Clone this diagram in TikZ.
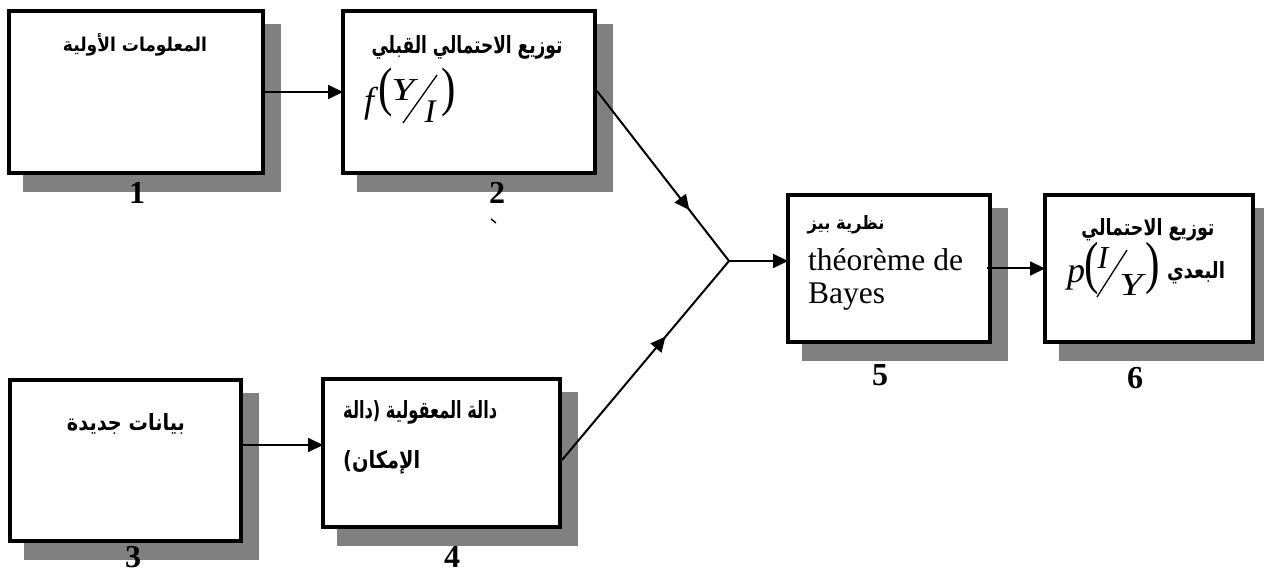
\documentclass[tikz,border=0pt]{standalone}
\usepackage{fontspec}
\usepackage{graphicx}
\setmainfont{Liberation Serif}
\newfontfamily\arabicfont[Script=Arabic]{DejaVu Sans}
\TeXXeTstate=1
\usetikzlibrary{arrows.meta,decorations.markings,backgrounds}
\newcommand{\arw}[3]{\resizebox{#1pt}{#2pt}{\arabicfont\bfseries #3}}
\tikzset{
  box/.style={draw=black, line width=4pt, fill=white, inner sep=0pt, outer sep=0pt},
  shadowfill/.style={fill=gray},
  conn/.style={line width=2pt, -{Triangle[length=15pt,width=14pt]}},
  midarrow/.style={line width=2pt, postaction={decorate},
    decoration={markings, mark=at position #1 with {\arrow{Triangle[length=15pt,width=14pt]}}}},
  artext/.style={inner sep=0pt},
  num/.style={inner sep=0pt, font=\bfseries\fontsize{32}{32}\selectfont},
  lat/.style={inner sep=0pt, anchor=base west, font=\fontsize{31.5}{31.5}\selectfont},
  itl/.style={inner sep=0pt, font=\itshape\fontsize{#1}{#1}\selectfont},
  paren/.style={inner sep=0pt, font=\fontsize{#1}{#1}\selectfont},
  slash/.style={line width=1.3pt},
}
\begin{document}
\begin{tikzpicture}[x=1pt,y=-1pt]
\useasboundingbox (0,0) rectangle (1264,572);
% boxes
\node[box, minimum width=254pt, minimum height=162pt] (b1) at (136,92) {};
\node[box, minimum width=252pt, minimum height=162pt] (b2) at (469,92) {};
\node[box, minimum width=231pt, minimum height=161pt] (b3) at (125.5,460.5) {};
\node[box, minimum width=237pt, minimum height=148pt] (b4) at (441.5,453) {};
\node[box, minimum width=202pt, minimum height=147pt] (b5) at (889,268.5) {};
\node[box, minimum width=208pt, minimum height=147pt] (b6) at (1149,268.5) {};
% shadows
\begin{scope}[on background layer]
  \foreach \b in {b1,b2,b3,b4,b5,b6}{
    \fill[shadowfill] ([shift={(14pt,-13pt)}]\b.north west) rectangle ([shift={(18pt,-19pt)}]\b.south east);
  }
\end{scope}
% box 1
\node[artext] (t1) at (135,45) {\arw{144}{18}{\beginR المعلومات الأولية\endR}};
% box 2
\node[artext] (t2) at (467,47) {\arw{191}{18}{\beginR توزيع الاحتمالي القبلي\endR}};
\node[itl=36, anchor=base west] (f2) at (364,113) {f};
\node[paren=54] (lp2) at (386,93) {\scalebox{0.8}[1]{(}};
\node[itl=32] (y2) at (403,90) {\scalebox{1.3}[1]{Y}};
\node[itl=33] (i2) at (430,112) {I};
\node[paren=54] (rp2) at (449,93) {\scalebox{0.8}[1]{)}};
\draw[slash] (403,123) -- (437,75);
% box 3
\node[artext] (t3) at (126,424) {\arw{118}{17}{\beginR بيانات جديدة\endR}};
% box 4
\node[artext, anchor=west] (t4a) at (343,412) {\arw{154}{18}{\beginR دالة المعقولية (دالة\endR}};
\node[artext, anchor=west] (t4b) at (343,462) {\arw{77}{18}{\beginR الإمكان)\endR}};
% box 5
\node[artext] (t5) at (846,225) {\arw{77}{14}{\beginR نظرية بيز\endR}};
\node[lat] (t5b) at (808,271) {théorème de};
\node[lat] (t5c) at (808,303) {Bayes};
% box 6
\node[artext] (t6) at (1148,230) {\arw{133}{17}{\beginR توزيع الاحتمالي\endR}};
\node[artext] (t6b) at (1196,273) {\arw{58}{17}{\beginR البعدي\endR}};
\node[itl=36, anchor=base west] (p6) at (1067,282) {p};
\node[paren=58] (lp6) at (1092,269) {\scalebox{0.75}[1]{(}};
\node[itl=32] (i6) at (1103,258) {I};
\node[itl=32] (y6) at (1131,285) {\scalebox{1.3}[1]{Y}};
\node[paren=58] (rp6) at (1153,269) {\scalebox{0.75}[1]{)}};
\draw[slash] (1097,297) -- (1127,250);
% numbers
\node[num] (n1) at (137,193) {1};
\node[num] (n2) at (497,193) {2};
\draw[line width=1.4pt] (491,219) -- (496,223);
\node[num] (n3) at (133,557) {3};
\node[num] (n4) at (452,557) {4};
\node[num] (n5) at (880,375) {5};
\node[num] (n6) at (1135,378) {6};
% connectors
\coordinate (J) at (729,261);
\draw[conn] (b1.east) -- (b2.west);
\draw[conn] ([yshift=15.5pt]b3.east) -- ([yshift=15.5pt]b3.east -| b4.west);
\draw[midarrow=0.7] ([shift={(2pt,1pt)}]b2.east) -- (J);
\draw[midarrow=0.62] ([shift={(2pt,-7pt)}]b4.east) -- (J);
\draw[conn] (J) -- (J -| b5.west);
\draw[conn] ([xshift=-3pt]b5.east) -- (b6.west);
\end{tikzpicture}
\end{document}
